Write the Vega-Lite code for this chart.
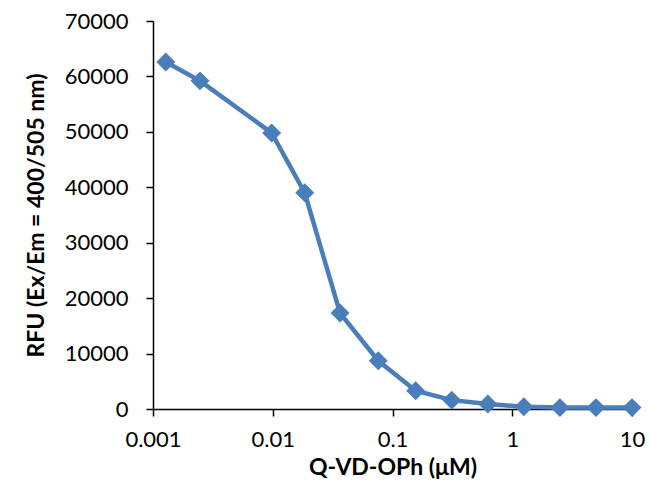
{
  "$schema": "https://vega.github.io/schema/vega-lite/v6.json",
  "autosize": "none",
  "width": 479,
  "height": 388,
  "padding": {"left": 153, "top": 21, "right": 18, "bottom": 76},
  "background": "white",
  "config": {
    "view": {"stroke": null},
    "axis": {
      "labelFont": "Lato",
      "titleFont": "Lato",
      "labelColor": "black",
      "titleColor": "black",
      "domainColor": "black",
      "tickColor": "black",
      "domainWidth": 1.5,
      "tickWidth": 1.5,
      "tickSize": 7,
      "grid": false,
      "labelFontSize": 22,
      "titleFontSize": 23,
      "titleFontWeight": "bold",
      "labelFlush": false,
      "labelOverlap": false
    }
  },
  "data": {
    "values": [
      {"conc": 0.00128, "rfu": 62600},
      {"conc": 0.00247, "rfu": 59200},
      {"conc": 0.0098, "rfu": 49800},
      {"conc": 0.0185, "rfu": 39000},
      {"conc": 0.0365, "rfu": 17300},
      {"conc": 0.076, "rfu": 8700},
      {"conc": 0.156, "rfu": 3300},
      {"conc": 0.3125, "rfu": 1600},
      {"conc": 0.625, "rfu": 900},
      {"conc": 1.25, "rfu": 400},
      {"conc": 2.5, "rfu": 250},
      {"conc": 5, "rfu": 250},
      {"conc": 10, "rfu": 250}
    ]
  },
  "encoding": {
    "x": {
      "field": "conc",
      "type": "quantitative",
      "scale": {"type": "log", "domain": [0.001, 10], "nice": false},
      "axis": {
        "title": "Q-VD-OPh (μM)",
        "values": [0.001, 0.01, 0.1, 1, 10],
        "format": "~g",
        "labelPadding": 13,
        "titlePadding": 6
      }
    },
    "y": {
      "field": "rfu",
      "type": "quantitative",
      "scale": {"domain": [0, 70000], "nice": false},
      "axis": {
        "title": "RFU (Ex/Em = 400/505 nm)",
        "values": [0, 10000, 20000, 30000, 40000, 50000, 60000, 70000],
        "format": "d",
        "labelPadding": 18,
        "titlePadding": 16
      }
    }
  },
  "layer": [
    {"mark": {"type": "line", "color": "#4A7EBB", "strokeWidth": 4.5}},
    {"mark": {"type": "point", "shape": "diamond", "filled": true, "color": "#4A7EBB", "opacity": 1, "size": 360}}
  ]
}
